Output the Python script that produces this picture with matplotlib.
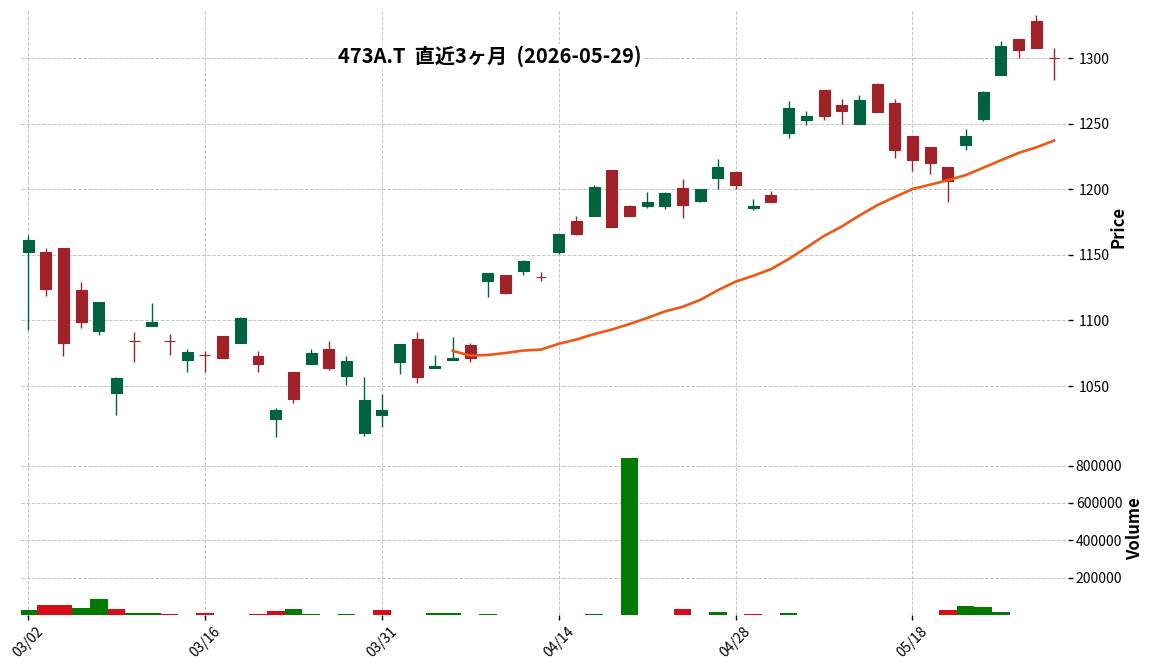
import matplotlib
matplotlib.use("Agg")
import matplotlib.pyplot as plt
import pandas as pd

plt.rcParams['font.family'] = ['Noto Sans CJK JP', 'DejaVu Sans']

# trading days (mm/dd), 2026
dates = ["03/02", "03/03", "03/04", "03/05", "03/06", "03/09", "03/10", "03/11", "03/12", "03/13",
         "03/16", "03/17", "03/18", "03/19", "03/23", "03/24", "03/25", "03/26", "03/27", "03/30",
         "03/31", "04/01", "04/02", "04/03", "04/06", "04/07", "04/08", "04/09", "04/10", "04/13",
         "04/14", "04/15", "04/16", "04/17", "04/20", "04/21", "04/22", "04/23", "04/24", "04/27",
         "04/28", "04/30", "05/01", "05/07", "05/08", "05/11", "05/12", "05/13", "05/14", "05/15",
         "05/18", "05/19", "05/20", "05/21", "05/22", "05/25", "05/26", "05/27", "05/28"]

opens = [1152, 1152, 1155, 1123, 1092, 1045, 1084, 1096, 1084, 1070,
         1074, 1088, 1083, 1073, 1025, 1061, 1067, 1078, 1058, 1014,
         1028, 1068, 1086, 1064, 1070, 1081, 1130, 1135, 1138, 1133,
         1152, 1176, 1180, 1215, 1187, 1187, 1187, 1201, 1191, 1209,
         1213, 1186, 1196, 1243, 1253, 1276, 1264, 1250, 1280, 1266,
         1241, 1232, 1217, 1234, 1254, 1287, 1315, 1328, 1300]
highs = [1165, 1155, 1155, 1129, 1114, 1057, 1091, 1113, 1090, 1078,
         1077, 1088, 1103, 1077, 1033, 1061, 1078, 1084, 1073, 1057,
         1044, 1082, 1091, 1074, 1087, 1083, 1136, 1135, 1146, 1137,
         1166, 1180, 1203, 1215, 1188, 1198, 1198, 1208, 1200, 1223,
         1213, 1193, 1199, 1267, 1260, 1276, 1269, 1272, 1281, 1269,
         1241, 1232, 1217, 1246, 1275, 1313, 1315, 1333, 1308]
lows = [1093, 1119, 1073, 1094, 1089, 1028, 1068, 1096, 1074, 1061,
        1061, 1071, 1083, 1061, 1011, 1037, 1067, 1062, 1051, 1012,
        1019, 1059, 1052, 1064, 1070, 1068, 1118, 1120, 1135, 1130,
        1151, 1165, 1180, 1171, 1180, 1186, 1185, 1178, 1190, 1200,
        1200, 1184, 1190, 1239, 1249, 1253, 1250, 1250, 1259, 1224,
        1214, 1212, 1190, 1230, 1252, 1287, 1300, 1308, 1283]
closes = [1161, 1124, 1083, 1099, 1114, 1056, 1084, 1099, 1084, 1076,
          1074, 1071, 1102, 1067, 1032, 1040, 1075, 1064, 1069, 1039,
          1032, 1082, 1057, 1065, 1071, 1071, 1136, 1121, 1145, 1133,
          1166, 1166, 1202, 1171, 1180, 1190, 1197, 1188, 1200, 1217,
          1203, 1187, 1190, 1262, 1256, 1256, 1260, 1268, 1259, 1230,
          1222, 1220, 1206, 1241, 1274, 1309, 1306, 1308, 1300]
volumes = [27000, 55000, 55000, 38000, 84000, 33000, 10000, 10000, 5000, 0,
           10000, 0, 0, 5000, 21000, 33000, 5000, 0, 5000, 0,
           27000, 0, 0, 10000, 10000, 0, 5000, 0, 0, 0,
           0, 0, 5000, 0, 840000, 0, 0, 31000, 0, 15000,
           0, 4000, 0, 10000, 0, 0, 0, 0, 0, 0,
           0, 0, 26000, 47000, 42000, 15000, 0, 0, 0]

up_color = '#006340'
down_color = '#a02128'
vol_up = '#007a00'
vol_down = '#d50d18'
ma_color = '#ef5714'

x = list(range(len(dates)))
ma25 = pd.Series(closes).rolling(25).mean()

candle_cols = [up_color if c > o else down_color for o, c in zip(opens, closes)]
vol_cols = [vol_up]
for i in range(1, len(closes)):
    vol_cols.append(vol_up if closes[i] >= closes[i - 1] else vol_down)

fig = plt.figure(figsize=(11.52, 6.70), dpi=100)
ax = fig.add_axes([0.0182, 0.3397, 0.909, 0.6439])
axv = fig.add_axes([0.0182, 0.0821, 0.909, 0.2576], sharex=ax)

# candles
ax.vlines(x, lows, highs, colors=candle_cols, linewidth=1.0, zorder=2)
bottoms = [min(o, c) for o, c in zip(opens, closes)]
heights = [abs(c - o) for o, c in zip(opens, closes)]
ax.bar(x, heights, bottom=bottoms, width=0.62, color=candle_cols,
       edgecolor=candle_cols, linewidth=0.8, zorder=3)
ax.plot(x, ma25, color=ma_color, linewidth=1.9, zorder=4)

# volume
axv.bar(x, volumes, width=1.0, color=vol_cols, linewidth=0, zorder=2)

ax.set_xlim(-0.4, 58.8)
ax.set_ylim(1007, 1336)
axv.set_ylim(0, max(volumes) * 1.1)

for a in (ax, axv):
    a.grid(True, linestyle='--', color='#c4c4c4', linewidth=0.7, zorder=0)
    a.set_axisbelow(True)
    for s in a.spines.values():
        s.set_visible(False)
    a.yaxis.tick_right()
    a.yaxis.set_label_position('right')
    a.tick_params(axis='y', length=3.5, width=1, labelsize=10, pad=4)

ax.set_yticks([1050, 1100, 1150, 1200, 1250, 1300])
ax.tick_params(axis='x', bottom=False, labelbottom=False)
axv.set_yticks([200000, 400000, 600000, 800000])
axv.ticklabel_format(axis='y', style='plain')
axv.tick_params(axis='y', pad=2)

tick_pos = x[::10]
axv.set_xticks(tick_pos)
axv.set_xticklabels([dates[i] for i in tick_pos], rotation=45, fontsize=10)
axv.tick_params(axis='x', length=3.5, width=1)

ax.set_ylabel('Price', fontsize=12, fontweight='bold', labelpad=0)
axv.set_ylabel('Volume', fontsize=12, fontweight='bold', labelpad=3)

fig.text(0.425, 0.916, '473A.T  直近3ヶ月  (2026-05-29)', ha='center', va='center',
         fontsize=14.5, fontweight='bold',
         bbox=dict(facecolor='white', edgecolor='none', pad=1))

fig.savefig('out.png', dpi=100)
